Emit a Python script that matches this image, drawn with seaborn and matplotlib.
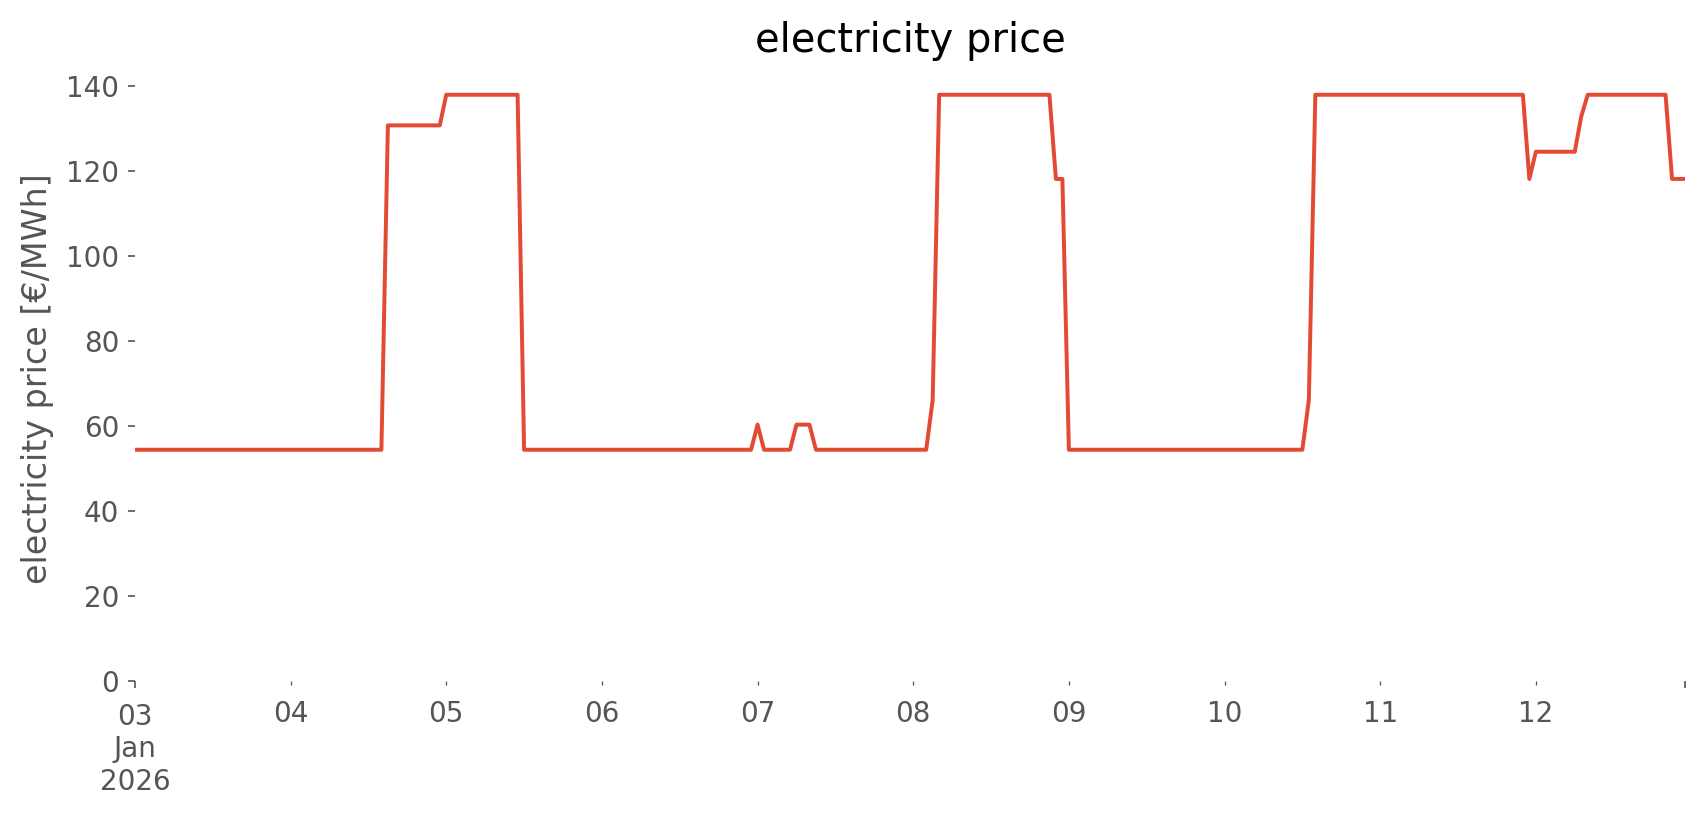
import numpy as np
import pandas as pd
import matplotlib
matplotlib.use("Agg")
import matplotlib.pyplot as plt
import matplotlib.dates as mdates
import matplotlib.ticker as mticker
import seaborn as sns

# hourly electricity price [€/MWh], one list per day (00:00 .. 23:00)
day_03 = [54.4, 54.4, 54.4, 54.4, 54.4, 54.4, 54.4, 54.4, 54.4, 54.4, 54.4, 54.4,
          54.4, 54.4, 54.4, 54.4, 54.4, 54.4, 54.4, 54.4, 54.4, 54.4, 54.4, 54.4]
day_04 = [54.4, 54.4, 54.4, 54.4, 54.4, 54.4, 54.4, 54.4, 54.4, 54.4, 54.4, 54.4,
          54.4, 54.4, 54.4, 130.7, 130.7, 130.7, 130.7, 130.7, 130.7, 130.7, 130.7, 130.7]
day_05 = [137.9, 137.9, 137.9, 137.9, 137.9, 137.9, 137.9, 137.9, 137.9, 137.9, 137.9, 137.9,
          54.4, 54.4, 54.4, 54.4, 54.4, 54.4, 54.4, 54.4, 54.4, 54.4, 54.4, 54.4]
day_06 = [54.4, 54.4, 54.4, 54.4, 54.4, 54.4, 54.4, 54.4, 54.4, 54.4, 54.4, 54.4,
          54.4, 54.4, 54.4, 54.4, 54.4, 54.4, 54.4, 54.4, 54.4, 54.4, 54.4, 54.4]
day_07 = [60.3, 54.4, 54.4, 54.4, 54.4, 54.4, 60.3, 60.3, 60.3, 54.4, 54.4, 54.4,
          54.4, 54.4, 54.4, 54.4, 54.4, 54.4, 54.4, 54.4, 54.4, 54.4, 54.4, 54.4]
day_08 = [54.4, 54.4, 54.4, 66.1, 137.9, 137.9, 137.9, 137.9, 137.9, 137.9, 137.9, 137.9,
          137.9, 137.9, 137.9, 137.9, 137.9, 137.9, 137.9, 137.9, 137.9, 137.9, 118.1, 118.1]
day_09 = [54.4, 54.4, 54.4, 54.4, 54.4, 54.4, 54.4, 54.4, 54.4, 54.4, 54.4, 54.4,
          54.4, 54.4, 54.4, 54.4, 54.4, 54.4, 54.4, 54.4, 54.4, 54.4, 54.4, 54.4]
day_10 = [54.4, 54.4, 54.4, 54.4, 54.4, 54.4, 54.4, 54.4, 54.4, 54.4, 54.4, 54.4,
          54.4, 66.1, 137.9, 137.9, 137.9, 137.9, 137.9, 137.9, 137.9, 137.9, 137.9, 137.9]
day_11 = [137.9, 137.9, 137.9, 137.9, 137.9, 137.9, 137.9, 137.9, 137.9, 137.9, 137.9, 137.9,
          137.9, 137.9, 137.9, 137.9, 137.9, 137.9, 137.9, 137.9, 137.9, 137.9, 137.9, 118.1]
day_12 = [124.5, 124.5, 124.5, 124.5, 124.5, 124.5, 124.5, 132.8, 137.9, 137.9, 137.9, 137.9,
          137.9, 137.9, 137.9, 137.9, 137.9, 137.9, 137.9, 137.9, 137.9, 118.1, 118.1, 118.1]

start = "2026-01-03 00:00"
title = "electricity price"
ylabel = "electricity price [€/MWh]"
day_labels = ["04", "05", "06", "07", "08", "09", "10", "11", "12"]
first_label = "03\nJan\n2026"

prices = day_03 + day_04 + day_05 + day_06 + day_07 + day_08 + day_09 + day_10 + day_11 + day_12
times = pd.date_range(start, periods=len(prices), freq="h")
df = pd.DataFrame({"time": times, "price": prices})

sns.set_style("white")
plt.rcParams["font.family"] = ["DejaVu Sans"]

fig = plt.figure(figsize=(1706 / 150, 815 / 150), dpi=150)
ax = fig.add_axes([0.0791, 0.1644, 0.9086, 0.7411])

sns.lineplot(data=df, x="time", y="price", ax=ax, color="#E24A33", linewidth=1.9)

for s in ax.spines.values():
    s.set_visible(False)
ax.grid(False)

x0 = mdates.date2num(times[0])
x1 = mdates.date2num(times[-1])
ax.set_xlim(x0, x1)
ymax = max(prices) + 0.05 * (max(prices) - min(prices))
ax.set_ylim(0, ymax)

ax.yaxis.set_major_locator(mticker.MultipleLocator(20))
ax.xaxis.set_major_locator(mticker.FixedLocator([x0, x1]))
ax.xaxis.set_major_formatter(mticker.FixedFormatter([first_label, ""]))
minor_pos = [mdates.date2num(pd.Timestamp(start) + pd.Timedelta(days=i + 1)) for i in range(len(day_labels))]
ax.xaxis.set_minor_locator(mticker.FixedLocator(minor_pos))
ax.xaxis.set_minor_formatter(mticker.FixedFormatter(day_labels))

ax.tick_params(axis="y", which="major", length=3.5, width=0.8, colors="#555555",
               labelsize=13.3, left=True, direction="out", pad=4)
ax.tick_params(axis="x", which="major", length=3.5, width=0.8, colors="#555555",
               labelsize=13.3, bottom=True, direction="out", pad=7)
ax.tick_params(axis="x", which="minor", length=2, width=0.6, colors="#555555",
               labelsize=13.3, bottom=True, direction="out", pad=7)

ax.set_xlabel("")
ax.set_ylabel(ylabel, fontsize=16, color="#555555", labelpad=6)
ax.set_title(title, fontsize=19.2, color="black", pad=12)

fig.savefig("out.png", dpi=150)
